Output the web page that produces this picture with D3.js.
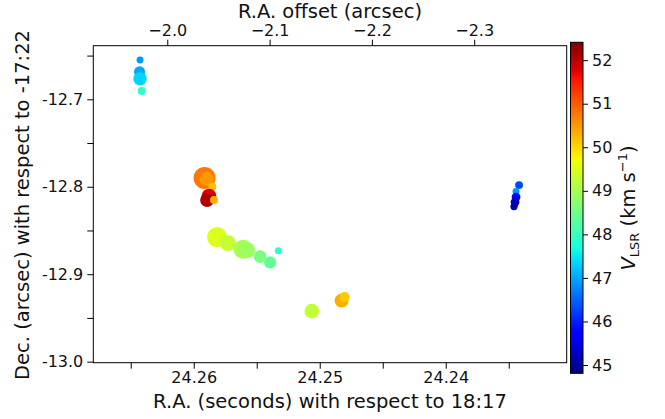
<!DOCTYPE html>
<html><head><meta charset="utf-8">
<script src="https://cdn.jsdelivr.net/npm/d3@7"></script>
<style>
body{margin:0;background:#fff;}
svg{display:block;font-family:"DejaVu Sans",sans-serif;}
</style></head>
<body><svg id="c" width="665" height="419"></svg>
<script>
// ---- data ----
const raSeconds = [24.26426,24.26430,24.26426,24.26413,
  24.25914,24.25898,24.25852,24.25879,24.25894,24.25839,
  24.25815,24.25728,24.25609,24.25577,24.25474,24.25394,24.25329,
  24.25063,24.24827,24.24803,
  24.23418,24.23442,24.23442,24.23450,24.23458];
const decArcsec = [-12.6550,-12.6685,-12.6765,-12.6905,
  -12.7900,-12.7912,-12.8000,-12.8106,-12.8152,-12.8152,
  -12.8576,-12.8645,-12.8714,-12.8725,-12.8799,-12.8865,-12.8732,
  -12.9422,-12.9302,-12.9262,
  -12.7981,-12.8055,-12.8118,-12.8175,-12.8227];
const vlsr = [46.9,47.0,47.35,47.9,
  50.75,50.5,50.2,51.8,52.1,50.3,
  49.5,49.3,49.0,48.9,48.6,48.35,47.9,
  49.25,50.35,50.1,
  46.3,46.9,45.6,45.2,45.1];
const flux = [10,25,38,13,
  100,40,13,45,40,13,
  83,53,75,53,33,30,10,
  44,40,21,
  13,10,16,16,11];
const bottomTicks = [24.26,24.25,24.24];
const bottomMinor = [24.265,24.255,24.245,24.235];
const leftTicks = [-12.7,-12.8,-12.9,-13.0];
const leftMinor = [-12.65,-12.75,-12.85,-12.95];
const topTicks = [-2.0,-2.1,-2.2,-2.3];
const cbarTicks = [45,46,47,48,49,50,51,52];

// ---- jet colormap (matplotlib segment data) ----
const jetSeg = {
  r:[[0,0],[0.35,0],[0.66,1],[0.89,1],[1,0.5]],
  g:[[0,0],[0.125,0],[0.375,1],[0.64,1],[0.91,0],[1,0]],
  b:[[0,0.5],[0.11,1],[0.34,1],[0.65,0],[1,0]]
};
function seg(s,t){t=Math.max(0,Math.min(1,t));for(let i=1;i<s.length;i++){if(t<=s[i][0]){const a=s[i-1],b=s[i];return a[1]+(b[1]-a[1])*(t-a[0])/(b[0]-a[0]);}}return s[s.length-1][1];}
function jet(t){return d3.rgb(255*seg(jetSeg.r,t),255*seg(jetSeg.g,t),255*seg(jetSeg.b,t)).toString();}

const svg = d3.select("#c");
const L=93.3,R=566.7,T=45.7,B=362.7;
const xSec = d3.scaleLinear().domain([24.26797,24.23040]).range([L,R]);
const xOff = d3.scaleLinear().domain([-1.9277,-2.3904]).range([L,R]);
const y = d3.scaleLinear().domain([-12.6387,-13.0012]).range([T,B]);
const vNorm = d3.scaleLinear().domain([44.81,52.41]).range([0,1]);
const rS = d3.scaleSqrt().domain([0,100]).range([0,11]);

// points
svg.append("g").selectAll("circle").data(d3.range(raSeconds.length)).join("circle")
  .attr("cx",i=>xSec(raSeconds[i])).attr("cy",i=>y(decArcsec[i]))
  .attr("r",i=>rS(flux[i])).attr("fill",i=>jet(vNorm(vlsr[i])));

// frame
svg.append("rect").attr("x",L).attr("y",T).attr("width",R-L).attr("height",B-T)
  .attr("fill","none").attr("stroke","#000").attr("stroke-width",1);

function styleAxis(g){g.select(".domain").remove();g.selectAll(".tick line").attr("stroke","#000");g.selectAll("text").attr("fill","#111").style("font-family","DejaVu Sans").style("font-size","16px");}

// bottom axis
svg.append("g").attr("transform",`translate(0,${B})`)
  .call(d3.axisBottom(xSec).tickValues(bottomTicks).tickFormat(d3.format(".2f")).tickSize(6).tickPadding(3))
  .call(styleAxis);
svg.append("g").attr("transform",`translate(0,${B})`)
  .call(d3.axisBottom(xSec).tickValues(bottomMinor).tickFormat("").tickSize(6))
  .call(styleAxis);
// left axis
svg.append("g").attr("transform",`translate(${L},0)`)
  .call(d3.axisLeft(y).tickValues(leftTicks).tickFormat(d=>d3.format(".1f")(d).replace("−","-")).tickSize(6).tickPadding(4))
  .call(styleAxis);
svg.append("g").attr("transform",`translate(${L},0)`)
  .call(d3.axisLeft(y).tickValues(leftMinor).tickFormat("").tickSize(6))
  .call(styleAxis);
// top axis
svg.append("g").attr("transform",`translate(0,${T})`)
  .call(d3.axisTop(xOff).tickValues(topTicks).tickFormat(d3.format(".1f")).tickSize(6).tickPadding(4))
  .call(styleAxis);

// axis titles
svg.append("text").attr("x",(L+R)/2).attr("y",408).attr("text-anchor","middle")
  .style("font-size","19.5px").attr("fill","#111").text("R.A. (seconds) with respect to 18:17");
svg.append("text").attr("x",(L+R)/2).attr("y",17.5).attr("text-anchor","middle")
  .style("font-size","19.5px").attr("fill","#111").text("R.A. offset (arcsec)");
svg.append("text").attr("transform","translate(29,205) rotate(-90)").attr("text-anchor","middle")
  .style("font-size","19.5px").attr("fill","#111").text("Dec. (arcsec) with respect to -17:22");

// colorbar
const cbX=570.5,cbW=12.5,cbT=42.3,cbB=373.3;
const cy = d3.scaleLinear().domain([44.81,52.41]).range([cbB,cbT]);
const defs = svg.append("defs");
const grad = defs.append("linearGradient").attr("id","jet").attr("x1",0).attr("y1",1).attr("x2",0).attr("y2",0);
d3.range(0,1.0001,0.01).forEach(t=>grad.append("stop").attr("offset",t).attr("stop-color",jet(t)));
svg.append("rect").attr("x",cbX).attr("y",cbT).attr("width",cbW).attr("height",cbB-cbT)
  .attr("fill","url(#jet)").attr("stroke","#000").attr("stroke-width",1);
svg.append("g").attr("transform",`translate(${cbX+cbW},0)`)
  .call(d3.axisRight(cy).tickValues(cbarTicks).tickFormat(d3.format("d")).tickSize(5).tickPadding(4))
  .call(styleAxis);
const lab = svg.append("text").attr("transform","translate(635,208) rotate(-90)").attr("text-anchor","middle")
  .style("font-size","19.5px").attr("fill","#111");
lab.append("tspan").style("font-style","italic").text("V");
lab.append("tspan").attr("dy",4).style("font-size","13px").text("LSR");
lab.append("tspan").attr("dy",-4).text(" (km s");
lab.append("tspan").attr("dy",-8).style("font-size","13px").text("−1");
lab.append("tspan").attr("dy",8).text(")");
</script></body></html>
